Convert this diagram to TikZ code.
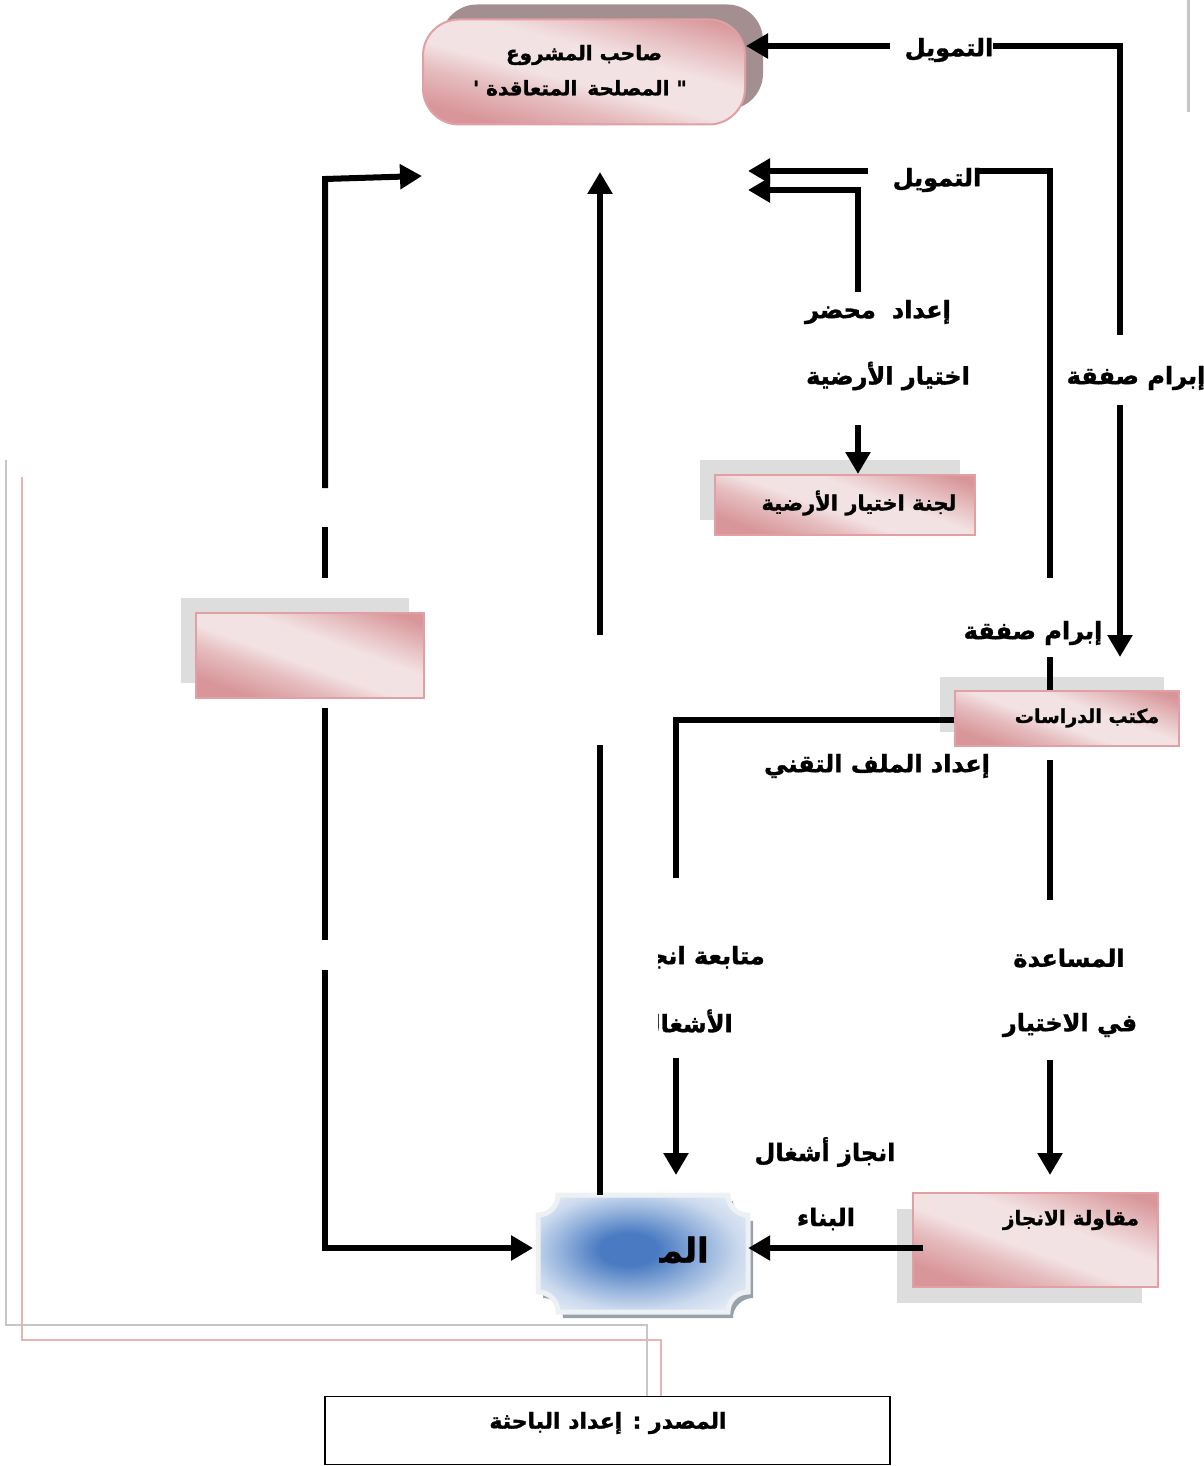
\documentclass[tikz,border=0pt]{standalone}
\usepackage{fontspec}
\TeXXeTstate=1
\newfontfamily\arfont[Script=Arabic, BoldFeatures={FakeBold=1.4}]{DejaVu Sans}
\usetikzlibrary{arrows.meta,shadows}

\definecolor{pinkdark}{HTML}{D8969A}
\definecolor{pinkmid}{HTML}{E6BDBF}
\definecolor{pinklight}{HTML}{F3E2E3}
\definecolor{pinkedge}{HTML}{E0A0A4}
\definecolor{shadowgray}{HTML}{DDDDDD}
\definecolor{shadowbrown}{HTML}{A38F90}
\definecolor{bluecore}{HTML}{4A7BC2}
\definecolor{bluemid}{HTML}{94B2DC}
\definecolor{bluepale}{HTML}{CCDAEE}
\definecolor{blueedge}{HTML}{E3EBF5}
\definecolor{plaquerim}{HTML}{EEF1F4}
\definecolor{plaqueshade}{HTML}{98A2AC}
\definecolor{framegray}{HTML}{C6C6C6}
\definecolor{framepink}{HTML}{E7B3B5}

% diagonal pink sheen: dark corners, wide light band
\pgfdeclareverticalshading{pinkband}{100bp}{color(0bp)=(pinkdark); color(26bp)=(pinkdark);
  color(38bp)=(pinkmid); color(46bp)=(pinklight); color(58bp)=(pinklight);
  color(68bp)=(pinkmid); color(78bp)=(pinkdark); color(100bp)=(pinkdark)}
% soft blue glow of the works plaque
\pgfdeclareradialshading{blueglow}{\pgfpoint{-4bp}{2bp}}{color(0bp)=(bluecore); color(7bp)=(bluecore);
  color(17bp)=(bluemid); color(25bp)=(bluepale); color(32bp)=(blueedge); color(50bp)=(blueedge)}

\tikzset{
  flow/.style={line width=6pt},
  tip/.style={-{Triangle[length=22pt,width=24pt]}},
  lbl/.style={inner sep=0pt, font=\arfont\bfseries\fontsize{24}{28}\selectfont},
  boxtxt/.style={inner sep=0pt, font=\arfont\bfseries\fontsize{20}{25}\selectfont},
  pinkbox/.style={shading=pinkband, shading angle=-20, draw=pinkedge, line width=2pt, inner sep=0pt},
  plaque/.style={insert path={(558,1195) -- (728,1195)
      arc[start angle=180,end angle=270,radius=20pt] -- (748,1292)
      arc[start angle=90,end angle=180,radius=20pt] -- (558,1312)
      arc[start angle=0,end angle=90,radius=20pt] -- (538,1215)
      arc[start angle=270,end angle=360,radius=20pt] -- cycle}}
}

\begin{document}
\begin{tikzpicture}[x=1pt,y=-1pt]
\useasboundingbox (0,0) rectangle (1203,1466);

% thin page-frame lines
\draw[framegray, line width=2.5pt] (6,460) -- (6,1325) -- (647,1325) -- (647,1396);
\draw[framepink, line width=2.5pt] (22,477) -- (22,1340) -- (661,1340) -- (661,1396);
\draw[framegray, line width=3pt] (1188,0) -- (1188,112);

% project owner
\node[pinkbox, shading angle=-15, rounded corners=36pt, minimum width=322pt, minimum height=105pt,
  general shadow={fill=shadowbrown, rounded corners=36pt, shadow xshift=18pt, shadow yshift=15pt}]
  (owner) at (584,72) {};
\node[boxtxt] (ownerA) at (584,55) {\beginR صاحب المشروع\endR};
\node[boxtxt] (ownerB) at (580,88) {\beginR " المصلحة\hspace{10pt}المتعاقدة '\endR};

% committee
\node[pinkbox, minimum width=260pt, minimum height=60pt,
  general shadow={fill=shadowgray, shadow xshift=-15pt, shadow yshift=15pt}]
  (committee) at (845,505) {};
\node[boxtxt, font=\arfont\bfseries\fontsize{21}{25}\selectfont] (committeeT) at (859,503)
  {\beginR لجنة اختيار الأرضية\endR};

% design office
\node[pinkbox, minimum width=224pt, minimum height=55pt,
  general shadow={fill=shadowgray, shadow xshift=-15pt, shadow yshift=14pt}]
  (studies) at (1067,718.5) {};
\node[boxtxt, font=\arfont\bfseries\fontsize{19}{25}\selectfont] (studiesT) at (1087,718)
  {\beginR مكتب الدراسات\endR};

% empty box
\node[pinkbox, minimum width=228pt, minimum height=85pt,
  general shadow={fill=shadowgray, shadow xshift=-15pt, shadow yshift=15pt}]
  (blank) at (310,655.5) {};

% contractor
\node[pinkbox, minimum width=245pt, minimum height=94pt,
  general shadow={fill=shadowgray, shadow xshift=-16pt, shadow yshift=-16pt}]
  (contractor) at (1035.5,1240) {};
\node[boxtxt] (contractorT) at (1071,1220) {\beginR مقاولة الانجاز\endR};

% the works
\path[fill=plaqueshade, shift={(5,6)}, plaque];
\path[shading=blueglow, plaque];
\draw[plaquerim, line width=5pt, plaque];
\node[minimum width=210pt, minimum height=117pt, inner sep=0pt] (works) at (643,1253.5) {};
\begin{scope}
  \clip (659,1200) rectangle (745,1300);
  \node[inner sep=0pt, anchor=east, font=\arfont\bfseries\fontsize{34}{40}\selectfont]
    (worksT) at (709,1246) {\beginR المنشأة\endR};
\end{scope}

% source box
\node[draw, line width=1.8pt, minimum width=565pt, minimum height=68pt, inner sep=0pt]
  (source) at (607.5,1430.5) {};
\node[boxtxt, font=\arfont\bfseries\fontsize{22}{25}\selectfont] (sourceT) at (608,1423)
  {\beginR المصدر : إعداد الباحثة\endR};

% labels
\node[lbl] (fund1) at (949,50) {\beginR التمويل\endR};
\node[lbl] (fund2) at (937,180) {\beginR التمويل\endR};
\node[lbl] (prepA) at (878,312) {\beginR إعداد\hspace{16pt}محضر\endR};
\node[lbl] (prepB) at (888,376) {\beginR اختيار الأرضية\endR};
\node[lbl] (deal1) at (1136,378) {\beginR إبرام صفقة\endR};
\node[lbl] (deal2) at (1033,633) {\beginR إبرام صفقة\endR};
\node[lbl] (techfile) at (877,766) {\beginR إعداد الملف التقني\endR};
\node[lbl] (helpA) at (1069,958) {\beginR المساعدة\endR};
\node[lbl] (helpB) at (1070,1025) {\beginR في الاختيار\endR};
\node[lbl] (buildA) at (825,1152) {\beginR انجاز أشغال\endR};
\node[lbl] (buildB) at (826,1219) {\beginR البناء\endR};
\begin{scope}
  \clip (658,930) rectangle (800,1050);
  \node[lbl, anchor=east] (followA) at (765,958) {\beginR متابعة انجاز\endR};
  \node[lbl, anchor=east] (followB) at (733,1023) {\beginR الأشغال\endR};
\end{scope}

% connector end points
\coordinate (f1a) at (890,46);
\coordinate (f1b) at (993,46);
\coordinate (f1c) at (1120,46);
\coordinate (f1d) at (1120,335);
\coordinate (f1e) at (1120,405);
\coordinate (f1f) at (1120,657);
\coordinate (f2a) at (868,171);
\coordinate (f2b) at (975,171);
\coordinate (f2c) at (1050,171);
\coordinate (f2d) at (1050,578);
\coordinate (f2e) at (1050,657);
\coordinate (h1) at (1050,760);
\coordinate (h2) at (1050,900);
\coordinate (h3) at (1050,1060);
\coordinate (h4) at (1050,1175);
\coordinate (p1) at (858,292);
\coordinate (p2) at (858,190);
\coordinate (p3) at (858,425);
\coordinate (t1) at (676,720);
\coordinate (t2) at (676,878);
\coordinate (t3) at (676,1058);
\coordinate (t4) at (676,1175);
\coordinate (c1) at (923,1248);
\coordinate (l1) at (325,488);
\coordinate (l2) at (325,179);
\coordinate (l3) at (422,176);
\coordinate (l4) at (325,527);
\coordinate (l5) at (325,578);
\coordinate (l6) at (325,708);
\coordinate (l7) at (325,940);
\coordinate (l8) at (325,970);
\coordinate (l9) at (325,1248);
\coordinate (l10) at (533,1248);
\coordinate (m1) at (600,635);
\coordinate (m2) at (600,172);
\coordinate (m3) at (600,745);

% connectors
\draw[flow, tip] (f1a) -- (owner.east |- f1a);
\draw[flow] (f1b) -- (f1c) -- (f1d);
\draw[flow, tip] (f1e) -- (f1f);
\draw[flow, tip] (f2a) -- (748,171);
\draw[flow] (f2b) -- (f2c) -- (f2d);
\draw[flow] (f2e) -- (f2e |- studies.north);
\draw[flow] (h1) -- (h2);
\draw[flow, tip] (h3) -- (h4);
\draw[flow, tip] (p1) -- (p2) -- (748,190);
\draw[flow, tip] (p3) -- (p3 |- committee.north);
\draw[flow] (studies.west |- t1) -- (t1) -- (t2);
\draw[flow, tip] (t3) -- (t4);
\draw[flow, tip] (c1) -- (works.east |- c1);
\draw[flow, tip] (l1) -- (l2) -- (l3);
\draw[flow] (l4) -- (l5);
\draw[flow] (l6) -- (l7);
\draw[flow, tip] (l8) -- (l9) -- (l10);
\draw[flow, tip] (m1) -- (m2);
\draw[flow] (m3) -- (m3 |- works.north);
\end{tikzpicture}
\end{document}
